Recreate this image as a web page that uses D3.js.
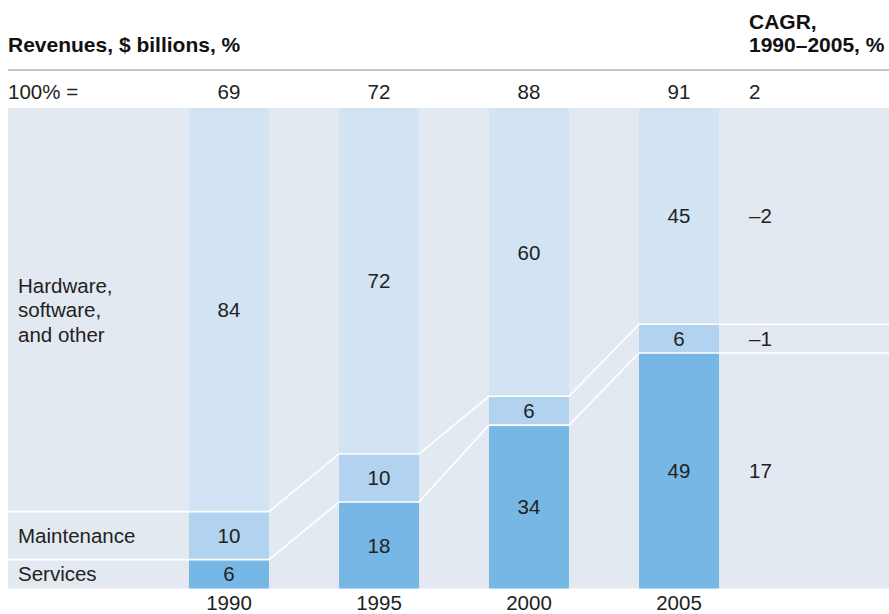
<!DOCTYPE html>
<html>
<head>
<meta charset="utf-8">
<script src="https://cdn.jsdelivr.net/npm/d3@7/dist/d3.min.js"></script>
<style>
  html, body { margin: 0; padding: 0; background: #fff; }
  svg { display: block; }
  text { font-family: "Liberation Sans", Arial, Helvetica, sans-serif; fill: #222; }
</style>
</head>
<body>
<svg id="chart" width="889" height="614"></svg>
<script>
const years = ["1990", "1995", "2000", "2005"];
const totals = [69, 72, 88, 91];
const services = [6, 18, 34, 49];
const maintenance = [10, 10, 6, 6];
const hardware = [84, 72, 60, 45];
const segmentNames = ["Services", "Maintenance", "Hardware,\nsoftware,\nand other"];
const cagrTotal = "2";
const cagrSegments = ["17", "\u20131", "\u20132"]; // services, maintenance, hardware
const colors = ["#77b7e6", "#b2d3ef", "#d2e4f4"];

const W = 889, H = 614;
const svg = d3.select("#chart");

const x = d3.scaleBand().domain(years).range([114, 794]).paddingInner(70 / 150).paddingOuter(0.5);
const y = d3.scaleLinear().domain([0, 100]).range([588.5, 108]);

const panelLeft = 8, panelRight = W;
const fs = 20.5;

// panel
svg.append("rect").attr("x", panelLeft).attr("y", y(100)).attr("width", panelRight - panelLeft)
  .attr("height", y(0) - y(100)).attr("fill", "#e2e9f0");

// stacked data
const series = [services, maintenance, hardware];
const stacks = years.map((yr, i) => {
  let base = 0;
  return series.map((s, k) => {
    const seg = { year: yr, k, y0: base, y1: base + s[i], v: s[i] };
    base += s[i];
    return seg;
  });
});

// bars
stacks.forEach(st => {
  st.forEach(seg => {
    svg.append("rect")
      .attr("x", x(seg.year)).attr("width", x.bandwidth())
      .attr("y", y(seg.y1)).attr("height", y(seg.y0) - y(seg.y1))
      .attr("fill", colors[seg.k]);
  });
});

// white connector lines at segment boundaries (tops of services & maintenance)
const lineG = svg.append("g").attr("stroke", "#fff").attr("stroke-width", 1.6).attr("fill", "none");
[0, 1].forEach(k => {
  const pts = [];
  pts.push([panelLeft, y(stacks[0][k].y1)]);
  years.forEach((yr, i) => {
    pts.push([x(yr), y(stacks[i][k].y1)]);
    pts.push([x(yr) + x.bandwidth(), y(stacks[i][k].y1)]);
  });
  pts.push([panelRight, y(stacks[years.length - 1][k].y1)]);
  lineG.append("path").attr("d", d3.line()(pts));
});

// segment value labels
stacks.forEach(st => {
  st.forEach(seg => {
    svg.append("text")
      .attr("x", x(seg.year) + x.bandwidth() / 2)
      .attr("y", (y(seg.y0) + y(seg.y1)) / 2)
      .attr("dy", "0.36em")
      .attr("text-anchor", "middle")
      .attr("font-size", fs)
      .text(seg.v);
  });
});

// category labels on the left, centered on 1990 segments
stacks[0].forEach(seg => {
  const lines = segmentNames[seg.k].split("\n");
  const cy = (y(seg.y0) + y(seg.y1)) / 2;
  const lh = 24.5;
  const t = svg.append("text").attr("x", 18).attr("font-size", fs);
  lines.forEach((ln, j) => {
    t.append("tspan").attr("x", 18)
      .attr("y", cy + (j - (lines.length - 1) / 2) * lh)
      .attr("dy", "0.36em").text(ln);
  });
});

// CAGR labels aligned to 2005 segments
const last = stacks[years.length - 1];
last.forEach(seg => {
  svg.append("text").attr("x", 749)
    .attr("y", (y(seg.y0) + y(seg.y1)) / 2).attr("dy", "0.36em")
    .attr("font-size", fs).text(cagrSegments[seg.k]);
});

// 100% = row
svg.append("text").attr("x", 8).attr("y", 99).attr("font-size", fs).text("100% =");
years.forEach((yr, i) => {
  svg.append("text").attr("x", x(yr) + x.bandwidth() / 2).attr("y", 99)
    .attr("text-anchor", "middle").attr("font-size", fs).text(totals[i]);
});
svg.append("text").attr("x", 749).attr("y", 99).attr("font-size", fs).text(cagrTotal);

// x axis year labels
const xAxis = d3.axisBottom(x).tickSize(0).tickPadding(0);
const axG = svg.append("g").attr("transform", `translate(0, ${y(0)})`).call(xAxis);
axG.select(".domain").remove();
axG.selectAll("text").attr("font-size", fs).attr("fill", "#222")
  .attr("font-family", "Liberation Sans, Arial, sans-serif")
  .attr("dy", null).attr("y", 21);

// headers
svg.append("text").attr("x", 8).attr("y", 52).attr("font-size", 21).attr("font-weight", "bold")
  .style("fill", "#111").text("Revenues, $ billions, %");
const cg = svg.append("text").attr("font-size", 21).attr("font-weight", "bold").style("fill", "#111");
cg.append("tspan").attr("x", 749).attr("y", 29).text("CAGR,");
cg.append("tspan").attr("x", 749).attr("y", 52).text("1990\u20132005, %");

// header rule
svg.append("line").attr("x1", 8).attr("x2", W).attr("y1", 70).attr("y2", 70)
  .attr("stroke", "#c6c6c6").attr("stroke-width", 2);
</script>
</body>
</html>
